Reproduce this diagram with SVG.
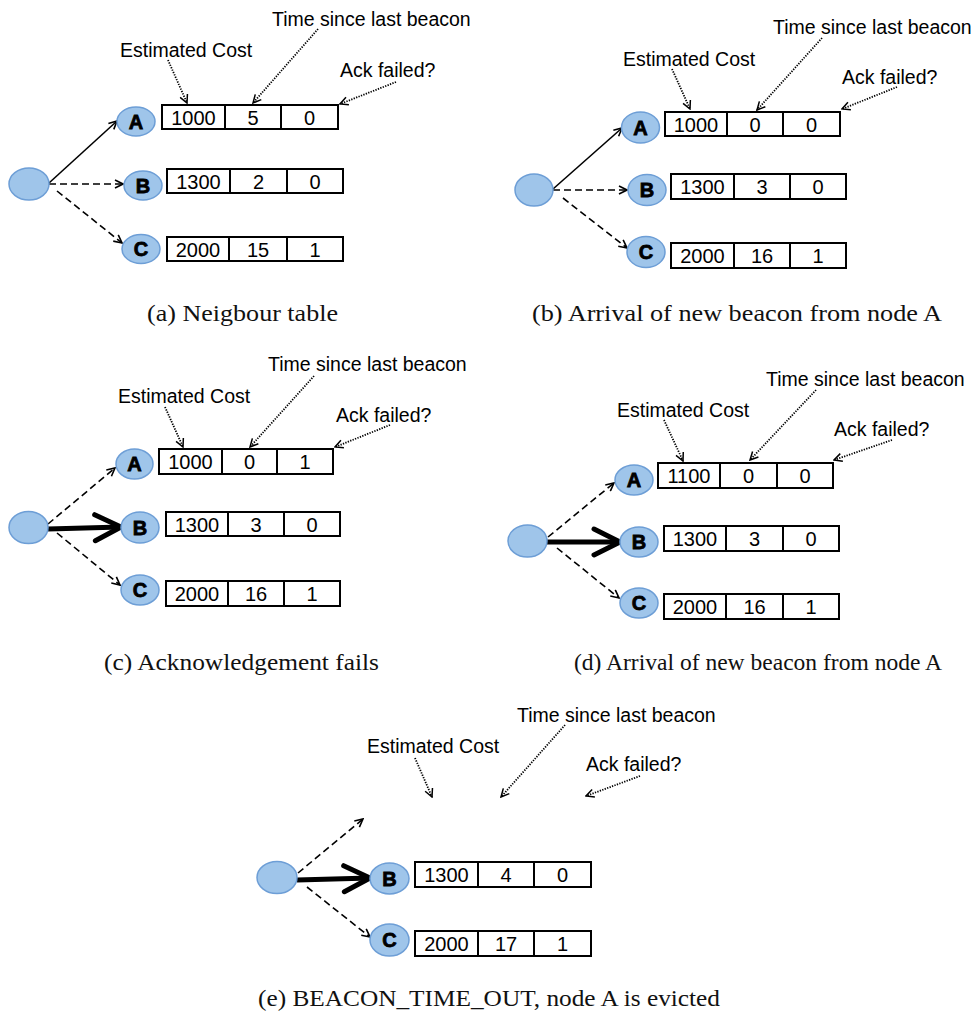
<svg xmlns="http://www.w3.org/2000/svg" width="979" height="1019" viewBox="0 0 979 1019">
<style>
.bg{fill:#fff}
.nd{fill:#9fc5ea;stroke:#6d9ed6;stroke-width:1.5}
.lt{font-family:"Liberation Sans",Arial,sans-serif;font-weight:bold;font-size:20px;fill:#000;stroke:#000;stroke-width:0.8;text-anchor:middle}
.cell{fill:#fff;stroke:#000;stroke-width:2}
.div{stroke:#000;stroke-width:2}
.num{font-family:"Liberation Sans",Arial,sans-serif;font-size:20px;fill:#000;text-anchor:middle}
.lbl{font-family:"Liberation Sans",Arial,sans-serif;font-size:19.5px;fill:#000}
.cap{font-family:"Liberation Serif","Times New Roman",serif;font-size:23px;fill:#111}
.solid{stroke:#000;stroke-width:1.6;fill:none;marker-end:url(#ah)}
.dash{stroke:#000;stroke-width:1.6;fill:none;stroke-dasharray:7,4;marker-end:url(#ah)}
.dot{stroke:#000;stroke-width:1.8;fill:none;stroke-dasharray:1.3,1.3;marker-end:url(#ad)}
.thick{stroke:#000;stroke-width:5;fill:none;marker-end:url(#at)}
</style>
<defs>
<marker id="ah" viewBox="0 0 10 10" refX="9" refY="5" markerWidth="10" markerHeight="10" markerUnits="userSpaceOnUse" orient="auto"><path d="M1,1 L9,5 L1,9" fill="none" stroke="#000" stroke-width="1.6"/></marker>
<marker id="ad" viewBox="0 0 10 10" refX="9" refY="5" markerWidth="10" markerHeight="10" markerUnits="userSpaceOnUse" orient="auto"><path d="M1,1 L9,5 L1,9" fill="none" stroke="#000" stroke-width="1.5"/></marker>
<marker id="at" viewBox="0 0 34 34" refX="31" refY="17" markerWidth="34" markerHeight="34" markerUnits="userSpaceOnUse" orient="auto"><path d="M5,4 L31,17 L5,30" fill="none" stroke="#000" stroke-width="5" stroke-linecap="round" stroke-linejoin="round"/></marker>
</defs>
<rect class="bg" x="0" y="0" width="979" height="1019"/>

<!-- Panel (a) -->
<g id="panel-a">
  <g id="a-connectors">
    <line class="solid" x1="49" y1="183" x2="117" y2="121"/>
    <line class="dash" x1="49" y1="184" x2="123" y2="184"/>
    <line class="dash" x1="57" y1="191" x2="122" y2="243"/>
    <line class="dot" x1="168" y1="60" x2="187" y2="103"/>
    <line class="dot" x1="318" y1="29" x2="253" y2="103"/>
    <line class="dot" x1="396" y1="82" x2="340" y2="104"/>
  </g>
  <g id="a-src"><ellipse class="nd" cx="29" cy="184" rx="20" ry="16"/></g>
  <g id="a-A"><ellipse class="nd" cx="136" cy="121.5" rx="19" ry="14.5"/><text class="lt" x="136" y="128.5">A</text></g>
  <g id="a-B"><ellipse class="nd" cx="143" cy="185.5" rx="19" ry="14.5"/><text class="lt" x="143" y="192.5">B</text></g>
  <g id="a-C"><ellipse class="nd" cx="141" cy="249" rx="19" ry="14.5"/><text class="lt" x="141" y="256">C</text></g>
  <g id="a-tA"><rect class="cell" x="162" y="105" width="176" height="24"/><line class="div" x1="225" y1="105" x2="225" y2="129"/><line class="div" x1="281" y1="105" x2="281" y2="129"/>
    <text class="num" x="193.5" y="124.5">1000</text><text class="num" x="253" y="124.5">5</text><text class="num" x="309.5" y="124.5">0</text></g>
  <g id="a-tB"><rect class="cell" x="167" y="169" width="176" height="24"/><line class="div" x1="230" y1="169" x2="230" y2="193"/><line class="div" x1="287" y1="169" x2="287" y2="193"/>
    <text class="num" x="198.5" y="188.5">1300</text><text class="num" x="258.5" y="188.5">2</text><text class="num" x="315" y="188.5">0</text></g>
  <g id="a-tC"><rect class="cell" x="167" y="237" width="176" height="24"/><line class="div" x1="229" y1="237" x2="229" y2="261"/><line class="div" x1="287" y1="237" x2="287" y2="261"/>
    <text class="num" x="198" y="256.5">2000</text><text class="num" x="258" y="256.5">15</text><text class="num" x="315" y="256.5">1</text></g>
  <text class="lbl" x="120" y="57">Estimated Cost</text>
  <text class="lbl" x="272" y="26">Time since last beacon</text>
  <text class="lbl" x="340" y="77">Ack failed?</text>
  <text class="cap" x="147" y="321" textLength="191" lengthAdjust="spacingAndGlyphs">(a) Neigbour table</text>
</g>

<!-- Panel (b) -->
<g id="panel-b">
  <g id="b-connectors">
    <line class="solid" x1="553" y1="189" x2="622" y2="128"/>
    <line class="dash" x1="553" y1="190" x2="627" y2="190"/>
    <line class="dash" x1="563" y1="198" x2="627" y2="248"/>
    <line class="dot" x1="672" y1="69" x2="690" y2="109"/>
    <line class="dot" x1="822" y1="38" x2="757" y2="110"/>
    <line class="dot" x1="897" y1="87" x2="842" y2="109"/>
  </g>
  <g id="b-src"><ellipse class="nd" cx="534" cy="190" rx="19" ry="16"/></g>
  <g id="b-A"><ellipse class="nd" cx="640.5" cy="127.5" rx="19" ry="15.5"/><text class="lt" x="640.5" y="134.5">A</text></g>
  <g id="b-B"><ellipse class="nd" cx="647" cy="190" rx="19" ry="15.5"/><text class="lt" x="647" y="197">B</text></g>
  <g id="b-C"><ellipse class="nd" cx="646" cy="252" rx="19" ry="15.5"/><text class="lt" x="646" y="259">C</text></g>
  <g id="b-tA"><rect class="cell" x="665" y="112" width="175" height="24"/><line class="div" x1="727" y1="112" x2="727" y2="136"/><line class="div" x1="783" y1="112" x2="783" y2="136"/>
    <text class="num" x="696" y="131.5">1000</text><text class="num" x="755" y="131.5">0</text><text class="num" x="811.5" y="131.5">0</text></g>
  <g id="b-tB"><rect class="cell" x="671" y="174" width="175" height="25"/><line class="div" x1="734" y1="174" x2="734" y2="199"/><line class="div" x1="790" y1="174" x2="790" y2="199"/>
    <text class="num" x="702.5" y="194">1300</text><text class="num" x="762" y="194">3</text><text class="num" x="818" y="194">0</text></g>
  <g id="b-tC"><rect class="cell" x="671" y="243" width="175" height="25"/><line class="div" x1="734" y1="243" x2="734" y2="268"/><line class="div" x1="790" y1="243" x2="790" y2="268"/>
    <text class="num" x="702.5" y="263">2000</text><text class="num" x="762" y="263">16</text><text class="num" x="818" y="263">1</text></g>
  <text class="lbl" x="623" y="66">Estimated Cost</text>
  <text class="lbl" x="773" y="34">Time since last beacon</text>
  <text class="lbl" x="842" y="84">Ack failed?</text>
  <text class="cap" x="532" y="321" textLength="410" lengthAdjust="spacingAndGlyphs">(b) Arrival of new beacon from node A</text>
</g>

<!-- Panel (c) -->
<g id="panel-c">
  <g id="c-connectors">
    <line class="dash" x1="48" y1="524" x2="115" y2="468"/>
    <line class="thick" x1="48" y1="529" x2="121" y2="527"/>
    <line class="dash" x1="57" y1="533" x2="120" y2="585"/>
    <line class="dot" x1="165" y1="407" x2="183" y2="447"/>
    <line class="dot" x1="314" y1="376" x2="250" y2="447"/>
    <line class="dot" x1="390" y1="425" x2="335" y2="447"/>
  </g>
  <g id="c-src"><ellipse class="nd" cx="28.5" cy="527.5" rx="19.5" ry="16"/></g>
  <g id="c-A"><ellipse class="nd" cx="134.5" cy="464" rx="18.5" ry="15"/><text class="lt" x="134.5" y="471">A</text></g>
  <g id="c-B"><ellipse class="nd" cx="140" cy="527.5" rx="19" ry="15.5"/><text class="lt" x="140" y="534.5">B</text></g>
  <g id="c-C"><ellipse class="nd" cx="140" cy="590" rx="19" ry="15"/><text class="lt" x="140" y="597">C</text></g>
  <g id="c-tA"><rect class="cell" x="159" y="449" width="174" height="25"/><line class="div" x1="222" y1="449" x2="222" y2="474"/><line class="div" x1="277" y1="449" x2="277" y2="474"/>
    <text class="num" x="190.5" y="469">1000</text><text class="num" x="249.5" y="469">0</text><text class="num" x="305" y="469">1</text></g>
  <g id="c-tB"><rect class="cell" x="166" y="512" width="174" height="24"/><line class="div" x1="228" y1="512" x2="228" y2="536"/><line class="div" x1="284" y1="512" x2="284" y2="536"/>
    <text class="num" x="197" y="531.5">1300</text><text class="num" x="256" y="531.5">3</text><text class="num" x="312" y="531.5">0</text></g>
  <g id="c-tC"><rect class="cell" x="166" y="581" width="174" height="25"/><line class="div" x1="228" y1="581" x2="228" y2="606"/><line class="div" x1="284" y1="581" x2="284" y2="606"/>
    <text class="num" x="197" y="601">2000</text><text class="num" x="256" y="601">16</text><text class="num" x="312" y="601">1</text></g>
  <text class="lbl" x="118" y="403">Estimated Cost</text>
  <text class="lbl" x="268" y="371">Time since last beacon</text>
  <text class="lbl" x="336" y="422">Ack failed?</text>
  <text class="cap" x="104" y="670" textLength="275" lengthAdjust="spacingAndGlyphs">(c) Acknowledgement fails</text>
</g>

<!-- Panel (d) -->
<g id="panel-d">
  <g id="d-connectors">
    <line class="dash" x1="548" y1="537" x2="614" y2="483"/>
    <line class="thick" x1="547" y1="542" x2="620" y2="542"/>
    <line class="dash" x1="557" y1="548" x2="619" y2="598"/>
    <line class="dot" x1="664" y1="420" x2="683" y2="461"/>
    <line class="dot" x1="816" y1="390" x2="750" y2="460"/>
    <line class="dot" x1="892" y1="440" x2="834" y2="460"/>
  </g>
  <g id="d-src"><ellipse class="nd" cx="527.5" cy="541" rx="19.5" ry="16"/></g>
  <g id="d-A"><ellipse class="nd" cx="634" cy="480" rx="19" ry="15"/><text class="lt" x="634" y="487">A</text></g>
  <g id="d-B"><ellipse class="nd" cx="639" cy="542" rx="19" ry="15"/><text class="lt" x="639" y="549">B</text></g>
  <g id="d-C"><ellipse class="nd" cx="639" cy="603" rx="19" ry="15"/><text class="lt" x="639" y="610">C</text></g>
  <g id="d-tA"><rect class="cell" x="658" y="463" width="175" height="25"/><line class="div" x1="720" y1="463" x2="720" y2="488"/><line class="div" x1="777" y1="463" x2="777" y2="488"/>
    <text class="num" x="689" y="483">1100</text><text class="num" x="748.5" y="483">0</text><text class="num" x="805" y="483">0</text></g>
  <g id="d-tB"><rect class="cell" x="664" y="526" width="175" height="25"/><line class="div" x1="726" y1="526" x2="726" y2="551"/><line class="div" x1="783" y1="526" x2="783" y2="551"/>
    <text class="num" x="695" y="546">1300</text><text class="num" x="754.5" y="546">3</text><text class="num" x="811" y="546">0</text></g>
  <g id="d-tC"><rect class="cell" x="664" y="594" width="175" height="25"/><line class="div" x1="726" y1="594" x2="726" y2="619"/><line class="div" x1="783" y1="594" x2="783" y2="619"/>
    <text class="num" x="695" y="614">2000</text><text class="num" x="754.5" y="614">16</text><text class="num" x="811" y="614">1</text></g>
  <text class="lbl" x="617" y="417">Estimated Cost</text>
  <text class="lbl" x="766" y="386">Time since last beacon</text>
  <text class="lbl" x="834" y="436">Ack failed?</text>
  <text class="cap" x="574" y="670" textLength="368" lengthAdjust="spacingAndGlyphs">(d) Arrival of new beacon from node A</text>
</g>

<!-- Panel (e) -->
<g id="panel-e">
  <g id="e-connectors">
    <line class="dash" x1="298" y1="873" x2="363" y2="819"/>
    <line class="thick" x1="297" y1="880" x2="370" y2="878"/>
    <line class="dash" x1="307" y1="887" x2="370" y2="937"/>
    <line class="dot" x1="415" y1="758" x2="432" y2="797"/>
    <line class="dot" x1="565" y1="725" x2="501" y2="797"/>
    <line class="dot" x1="640" y1="776" x2="586" y2="796"/>
  </g>
  <g id="e-src"><ellipse class="nd" cx="277" cy="877.5" rx="20" ry="16"/></g>
  <g id="e-B"><ellipse class="nd" cx="389.5" cy="878.5" rx="19.5" ry="15.5"/><text class="lt" x="389.5" y="885.5">B</text></g>
  <g id="e-C"><ellipse class="nd" cx="389.5" cy="940" rx="19.5" ry="16"/><text class="lt" x="389.5" y="947">C</text></g>
  <g id="e-tB"><rect class="cell" x="415" y="862" width="176" height="25"/><line class="div" x1="478" y1="862" x2="478" y2="887"/><line class="div" x1="534" y1="862" x2="534" y2="887"/>
    <text class="num" x="446.5" y="882">1300</text><text class="num" x="506" y="882">4</text><text class="num" x="562.5" y="882">0</text></g>
  <g id="e-tC"><rect class="cell" x="415" y="931" width="176" height="25"/><line class="div" x1="478" y1="931" x2="478" y2="956"/><line class="div" x1="534" y1="931" x2="534" y2="956"/>
    <text class="num" x="446.5" y="951">2000</text><text class="num" x="506" y="951">17</text><text class="num" x="562.5" y="951">1</text></g>
  <text class="lbl" x="367" y="753">Estimated Cost</text>
  <text class="lbl" x="517" y="722">Time since last beacon</text>
  <text class="lbl" x="586" y="771">Ack failed?</text>
  <text class="cap" x="258" y="1006" textLength="462" lengthAdjust="spacingAndGlyphs">(e) BEACON_TIME_OUT, node A is evicted</text>
</g>
</svg>
